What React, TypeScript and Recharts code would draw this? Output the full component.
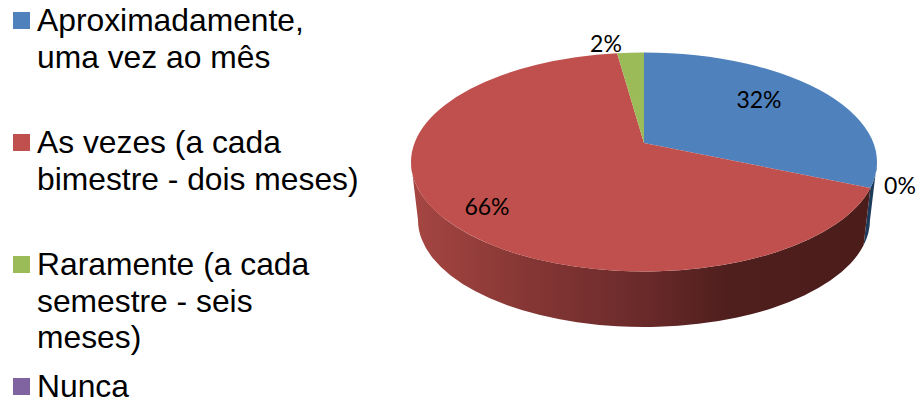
import { Legend, Pie, PieChart } from "recharts";

const categories = [
  "Aproximadamente,\numa vez ao mês",
  "As vezes (a cada\nbimestre - dois meses)",
  "Raramente (a cada\nsemestre - seis\nmeses)",
  "Nunca",
];
const shares = [32, 66, 2, 0];
const sliceColors = ["#4f81bd", "#c0504d", "#9bbb59", "#8064a2"];
const wallFills = ["#1f3b5c", "url(#redWall)", "#5d7030", "#4c3c61"];
const labelSpots = [
  [759, 99],
  [487, 206],
  [606, 43],
  [900, 185],
];

const pieData = categories.map((name, i) => ({
  name,
  value: shares[i],
  fill: sliceColors[i],
}));

// tilted disc: top rim, bottom rim, and the point where the slices meet
const TOP = { cx: 644, cy: 162, rx: 233, ry: 109.5 };
const BOTTOM = { cx: 644, cy: 220, rx: 226, ry: 107 };
const APEX = { x: 644, y: 143 };
const SPREAD_X = 230;
const SPREAD_Y = 97;

const RAD = Math.PI / 180;

// where the slice edge at a given pie angle reaches the top rim, as a rim parameter
function rimParam(angle: number) {
  const dx = Math.cos(angle * RAD) * SPREAD_X;
  const dy = -Math.sin(angle * RAD) * SPREAD_Y;
  const ox = (APEX.x - TOP.cx) / TOP.rx;
  const oy = (APEX.y - TOP.cy) / TOP.ry;
  const ux = dx / TOP.rx;
  const uy = dy / TOP.ry;
  const a = ux * ux + uy * uy;
  const b = 2 * (ox * ux + oy * uy);
  const c = ox * ox + oy * oy - 1;
  const s = (-b + Math.sqrt(b * b - 4 * a * c)) / (2 * a);
  return Math.atan2(oy + uy * s, ox + ux * s);
}

type Rim = typeof TOP;

const rimPoint = (rim: Rim, t: number) =>
  `${rim.cx + rim.rx * Math.cos(t)} ${rim.cy + rim.ry * Math.sin(t)}`;

function wallPath(from: number, to: number) {
  const large = to - from > Math.PI ? 1 : 0;
  return [
    `M ${rimPoint(TOP, from)}`,
    `A ${TOP.rx} ${TOP.ry} 0 ${large} 1 ${rimPoint(TOP, to)}`,
    `L ${rimPoint(BOTTOM, to)}`,
    `A ${BOTTOM.rx} ${BOTTOM.ry} 0 ${large} 0 ${rimPoint(BOTTOM, from)}`,
    "Z",
  ].join(" ");
}

function DiscSlice(props: any) {
  const { startAngle, endAngle, fill, index } = props;
  if (Math.abs(startAngle - endAngle) < 0.01) return null;

  const from = rimParam(startAngle);
  let to = rimParam(endAngle);
  while (to < from) to += Math.PI * 2;

  const large = to - from > Math.PI ? 1 : 0;
  const face = [
    `M ${APEX.x} ${APEX.y}`,
    `L ${rimPoint(TOP, from)}`,
    `A ${TOP.rx} ${TOP.ry} 0 ${large} 1 ${rimPoint(TOP, to)}`,
    "Z",
  ].join(" ");

  // only the front half of the rim shows a wall
  const walls: string[] = [];
  [0, Math.PI * 2].forEach((turn) => {
    const a = Math.max(from, turn);
    const b = Math.min(to, turn + Math.PI);
    if (b > a) walls.push(wallPath(a, b));
  });

  return (
    <g>
      {walls.map((d, i) => (
        <path key={i} d={d} fill={wallFills[index ?? 0]} />
      ))}
      <path d={face} fill={fill} />
    </g>
  );
}

function SliceLabel(props: any) {
  const [x, y] = labelSpots[props.index];
  return (
    <text
      x={x}
      y={y}
      textAnchor="middle"
      dominantBaseline="central"
      fontFamily="Lato"
      fontSize={23}
      fill="#000"
    >
      {`${props.value}%`}
    </text>
  );
}

function SideLegend({ payload }: any) {
  return (
    <div style={{ fontFamily: "'Liberation Sans'", fontSize: 31.8, lineHeight: "36.6px", color: "#000" }}>
      {(payload ?? []).map((entry: any) => (
        <div key={entry.value} style={{ display: "flex", height: 122 }}>
          <span
            style={{
              width: 17,
              height: 17,
              marginTop: 10,
              marginLeft: 13,
              marginRight: 7,
              flex: "none",
              background: entry.color,
            }}
          />
          <span style={{ whiteSpace: "pre-line" }}>{entry.value}</span>
        </div>
      ))}
    </div>
  );
}

export default function App() {
  return (
    <div
      style={{
        position: "absolute",
        left: 0,
        top: 0,
        width: 919,
        height: 403,
        overflow: "hidden",
        background: "#fff",
      }}
    >
      <PieChart width={919} height={403} margin={{ top: 0, right: 0, bottom: 0, left: 0 }}>
        <defs>
          <linearGradient id="redWall" gradientUnits="userSpaceOnUse" x1="411" y1="0" x2="877" y2="0">
            <stop offset="0" stopColor="#a64642" />
            <stop offset="0.26" stopColor="#843634" />
            <stop offset="0.5" stopColor="#6a2a2a" />
            <stop offset="0.68" stopColor="#4f1f1d" />
            <stop offset="1" stopColor="#4a1c1a" />
          </linearGradient>
        </defs>
        <Legend
          layout="vertical"
          verticalAlign="top"
          align="left"
          itemSorter={null}
          content={<SideLegend />}
          wrapperStyle={{ left: 0, top: 2, width: 370 }}
        />
        <Pie
          data={pieData}
          dataKey="value"
          nameKey="name"
          cx={644}
          cy={143}
          outerRadius={100}
          startAngle={90}
          endAngle={-270}
          stroke="none"
          shape={DiscSlice}
          label={SliceLabel}
          labelLine={false}
          isAnimationActive={false}
        />
      </PieChart>
    </div>
  );
}
